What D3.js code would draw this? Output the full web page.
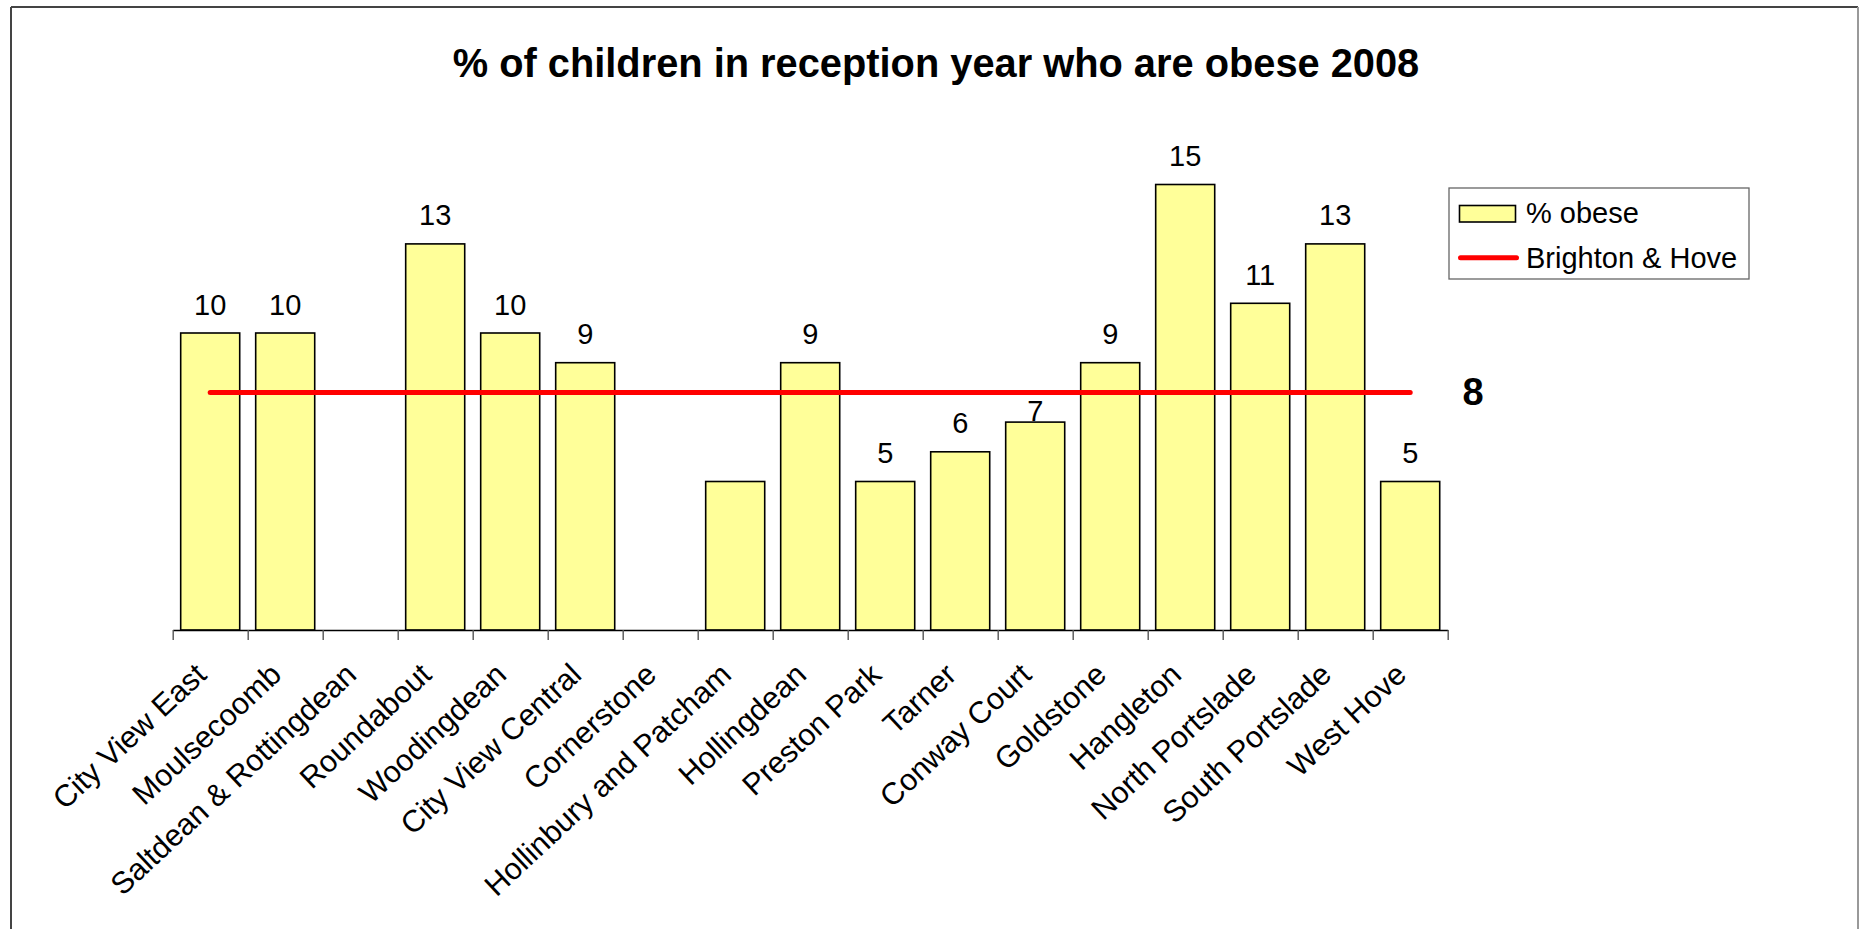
<!DOCTYPE html>
<html>
<head>
<meta charset="utf-8">
<script src="https://cdn.jsdelivr.net/npm/d3@7"></script>
<style>
  body { margin: 0; background: #fff; }
  svg { display: block; font-family: "Liberation Sans", Arial, sans-serif; }
</style>
</head>
<body>
<div id="chart"></div>
<script>
// 데이터
const areas = [
    "City View East", "Moulsecoomb", "Saltdean & Rottingdean", "Roundabout",
    "Woodingdean", "City View Central", "Cornerstone", "Hollinbury and Patcham",
    "Hollingdean", "Preston Park", "Tarner", "Conway Court", "Goldstone",
    "Hangleton", "North Portslade", "South Portslade", "West Hove"
];
const obese = [10, 10, null, 13, 10, 9, null, 5, 9, 5, 6, 7, 9, 15, 11, 13, 5];
const valueLabels = ["10", "10", "", "13", "10", "9", "", "", "9", "5", "6", "7", "9", "15", "11", "13", "5"];
const cityAverage = 8;
const titleText = "% of children in reception year who are obese 2008";
const legendLabels = ["% obese", "Brighton & Hove"];

const W = 1859, H = 929;
const plot = {left: 172.7, right: 1447.7, top: 155, bottom: 630};

const svg = d3.select("#chart").append("svg")
    .attr("width", W)
    .attr("height", H);

// 바깥 테두리
svg.append("line").attr("x1", 11).attr("y1", 7).attr("x2", 1858).attr("y2", 7)
    .attr("stroke", "#444").attr("stroke-width", 2);
svg.append("line").attr("x1", 11).attr("y1", 7).attr("x2", 11).attr("y2", H)
    .attr("stroke", "#444").attr("stroke-width", 2);
svg.append("line").attr("x1", 1858).attr("y1", 7).attr("x2", 1858).attr("y2", H)
    .attr("stroke", "#999").attr("stroke-width", 2);

// 제목
svg.append("text")
    .attr("x", 936)
    .attr("y", 77)
    .attr("text-anchor", "middle")
    .attr("font-size", 39.8)
    .attr("font-weight", "bold")
    .text(titleText);

const x = d3.scaleBand()
    .domain(areas)
    .range([plot.left, plot.right])
    .paddingInner(0.213)
    .paddingOuter(0.1065);

const yScale = d3.scaleLinear()
    .domain([0, 16])
    .range([plot.bottom, plot.bottom - 16 * 29.7]);

// 카테고리 경계 눈금용 스케일
const xEdge = d3.scaleLinear()
    .domain([0, areas.length])
    .range([plot.left, plot.right]);

const g = svg.append("g");

// 막대
g.selectAll("rect.bar")
    .data(areas.map((a, i) => ({name: a, value: obese[i], label: valueLabels[i]})).filter(d => d.value != null))
    .join("rect")
    .attr("class", "bar")
    .attr("x", d => x(d.name))
    .attr("y", d => yScale(d.value))
    .attr("width", x.bandwidth())
    .attr("height", d => yScale(0) - yScale(d.value))
    .attr("fill", "#FFFF99")
    .attr("stroke", "#000")
    .attr("stroke-width", 1.6);

// X축
const axis = g.append("g")
    .attr("transform", `translate(0,${plot.bottom})`)
    .call(d3.axisBottom(xEdge).tickValues(d3.range(areas.length + 1)).tickFormat("").tickSize(10).tickSizeOuter(0));
axis.select(".domain").attr("stroke", "#000").attr("stroke-width", 1.6);
axis.selectAll(".tick line").attr("stroke", "#555").attr("stroke-width", 1.4);

// 카테고리 라벨 (회전)
g.selectAll("text.cat")
    .data(areas)
    .join("text")
    .attr("class", "cat")
    .attr("text-anchor", "end")
    .attr("font-size", 30.5)
    .attr("transform", d => `translate(${x(d) + x.bandwidth() / 2 - 2},${plot.bottom + 47}) rotate(-43)`)
    .text(d => d);

// 평균선
const lineY = yScale(cityAverage);
const firstC = x(areas[0]) + x.bandwidth() / 2;
const lastC = x(areas[areas.length - 1]) + x.bandwidth() / 2;
g.append("path")
    .attr("d", d3.line()([[firstC, lineY], [lastC, lineY]]))
    .attr("stroke", "#FF0000")
    .attr("stroke-width", 5)
    .attr("stroke-linecap", "round")
    .attr("fill", "none");

g.append("text")
    .attr("x", 1473)
    .attr("y", lineY + 13)
    .attr("text-anchor", "middle")
    .attr("font-size", 38)
    .attr("font-weight", "bold")
    .text(cityAverage);

// 값 라벨 - 평균선과 겹치면 선 아래로 내림
const capH = 29 * 0.716;
g.selectAll("text.val")
    .data(areas.map((a, i) => ({name: a, value: obese[i], label: valueLabels[i]})).filter(d => d.value != null && d.label))
    .join("text")
    .attr("class", "val")
    .attr("text-anchor", "middle")
    .attr("font-size", 29)
    .attr("x", d => x(d.name) + x.bandwidth() / 2)
    .attr("y", d => {
        let base = yScale(d.value) - 18.5;
        if (base > lineY - 3 && base - capH < lineY + 3) base = lineY + 8 + capH;
        return base;
    })
    .text(d => d.label);

// 범례
const legend = svg.append("g");
legend.append("rect")
    .attr("x", 1449).attr("y", 188)
    .attr("width", 300).attr("height", 91)
    .attr("fill", "#fff")
    .attr("stroke", "#666")
    .attr("stroke-width", 1.3);
legend.append("rect")
    .attr("x", 1459.5).attr("y", 205.5)
    .attr("width", 56).attr("height", 16.5)
    .attr("fill", "#FFFF99")
    .attr("stroke", "#000")
    .attr("stroke-width", 1.6);
legend.append("line")
    .attr("x1", 1460.5).attr("x2", 1516.5)
    .attr("y1", 257.7).attr("y2", 257.7)
    .attr("stroke", "#FF0000")
    .attr("stroke-width", 5)
    .attr("stroke-linecap", "round");
legend.selectAll("text")
    .data(legendLabels)
    .join("text")
    .attr("x", 1526)
    .attr("y", (d, i) => 222.5 + i * 45)
    .attr("font-size", 29)
    .text(d => d);
</script>
</body>
</html>
